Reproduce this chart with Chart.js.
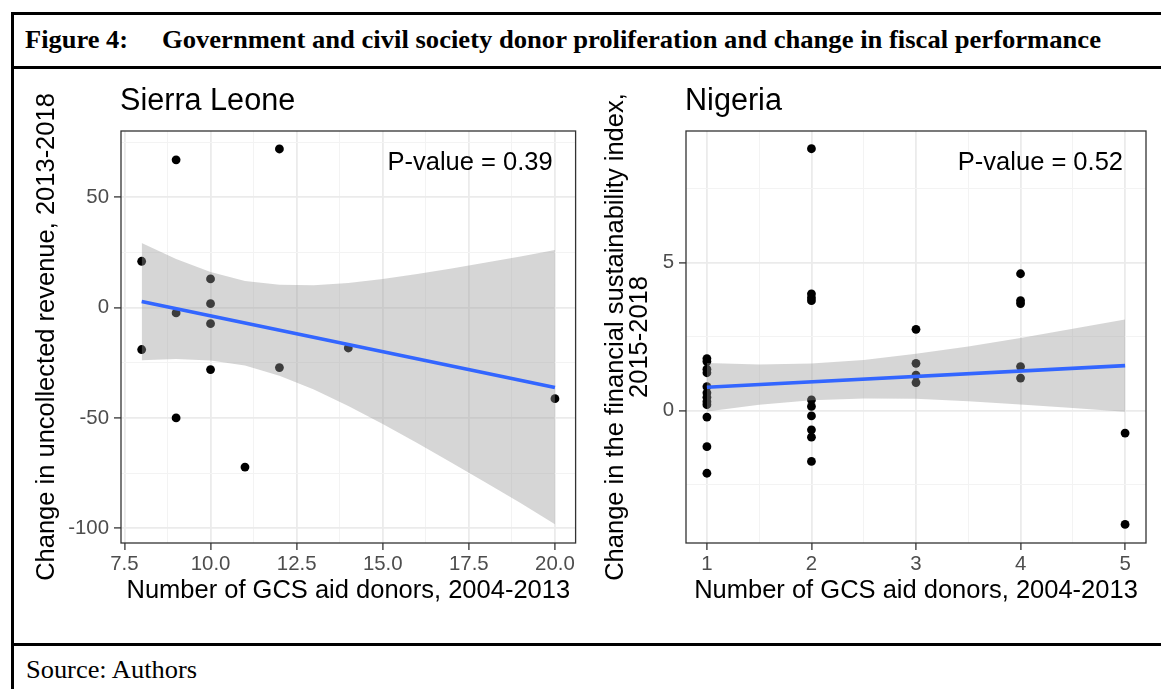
<!DOCTYPE html>
<html>
<head>
<meta charset="utf-8">
<script src="https://cdn.jsdelivr.net/npm/chart.js@4.4.1/dist/chart.umd.min.js"></script>
<style>
  body { margin: 0; background: #fff; }
  #page { position: relative; width: 1161px; height: 689px; overflow: hidden; background: #fff; }
  .rule { position: absolute; background: #000; }
  .serif { position: absolute; font-family: "Liberation Serif", "Times New Roman", serif; color: #000; white-space: pre; line-height: 1; transform-origin: 0 0; }
  canvas { position: absolute; }
</style>
</head>
<body>
<div id="page">
  <div class="rule" style="left:11px;top:12px;width:1150px;height:3px"></div>
  <div class="rule" style="left:11px;top:66px;width:1150px;height:3px"></div>
  <div class="rule" style="left:11px;top:643px;width:1150px;height:3px"></div>
  <div class="rule" style="left:11px;top:12px;width:3px;height:677px"></div>
  <div id="figLabel" class="serif" style="left:25px;top:27px;font-size:26px;font-weight:bold">Figure 4:</div>
  <div id="figTitle" class="serif" style="left:162px;top:27px;font-size:26px;font-weight:bold">Government and civil society donor proliferation and change in fiscal performance</div>
  <div id="source" class="serif" style="left:26px;top:657px;font-size:25px">Source: Authors</div>
  <canvas id="sierraLeone" width="580" height="573" style="left:0;top:70px"></canvas>
  <canvas id="nigeria" width="581" height="573" style="left:580px;top:70px"></canvas>
</div>
<script>
// ---- Sierra Leone ----
var slDonors = [8, 8, 9, 9, 9, 10, 10, 10, 10, 11, 12, 12, 14, 20];
var slRevenue = [21, -19, 67, -2.4, -50, 13, 1.8, -7.3, -28.1, -72.3, 71.9, -27.2, -18.3, -41.3];
var slFitX = [8, 20];
var slFitY = [2.8, -36.2];
var slBandX = [8, 9, 10, 11, 12, 13, 14, 15, 16, 17, 18, 19, 20];
var slBandHigh = [29.3, 22.0, 16.1, 12.1, 10.4, 10.1, 11.2, 13.0, 15.2, 17.7, 20.4, 23.2, 26.1];
var slBandLow = [-23.9, -23.3, -24.0, -26.3, -30.9, -37.1, -44.6, -52.8, -61.4, -70.3, -79.4, -88.6, -98.2];
var slXMajor = [7.5, 10, 12.5, 15, 17.5, 20];
var slXLabels = ["7.5", "10.0", "12.5", "15.0", "17.5", "20.0"];
var slXMinor = [8.75, 11.25, 13.75, 16.25, 18.75];
var slYMajor = [-100, -50, 0, 50];
var slYLabels = ["-100", "-50", "0", "50"];
var slYMinor = [-75, -25, 25, 75];

// ---- Nigeria ----
var ngDonors = [1, 1, 1, 1, 1, 1, 1, 1, 1, 1, 1, 1,
                2, 2, 2, 2, 2, 2, 2, 2, 2, 2,
                3, 3, 3, 3,
                4, 4, 4, 4, 4,
                5, 5];
var ngIndex = [1.76, 1.66, 1.40, 1.28, 0.81, 0.60, 0.45, 0.30, 0.20, -0.22, -1.22, -2.12,
               8.86, 3.95, 3.82, 3.72, 0.36, 0.14, -0.18, -0.65, -0.90, -1.72,
               2.75, 1.60, 1.20, 0.95,
               4.63, 3.72, 3.62, 1.49, 1.10,
               -0.76, -3.85];
var ngFitX = [1, 5];
var ngFitY = [0.79, 1.52];
var ngBandX = [1, 1.5, 2, 2.5, 3, 3.5, 4, 4.5, 5];
var ngBandHigh = [1.61, 1.56, 1.59, 1.71, 1.92, 2.17, 2.46, 2.77, 3.08];
var ngBandLow = [-0.03, 0.20, 0.35, 0.41, 0.40, 0.32, 0.21, 0.09, -0.04];
var ngXMajor = [1, 2, 3, 4, 5];
var ngXLabels = ["1", "2", "3", "4", "5"];
var ngXMinor = [1.5, 2.5, 3.5, 4.5];
var ngYMajor = [0, 5];
var ngYLabels = ["0", "5"];
var ngYMinor = [-2.5, 2.5, 7.5];

var SANS = '"Liberation Sans", Arial, sans-serif';
Chart.defaults.font.family = SANS;

// squeeze the serif caption texts to the widths they have in the figure
function fitWidth(id, w) {
    var el = document.getElementById(id);
    var cur = el.getBoundingClientRect().width;
    el.style.transform = "scaleX(" + (w / cur) + ")";
}
fitWidth("figLabel", 103);
fitWidth("figTitle", 939);
fitWidth("source", 171);

function toPoints(xs, ys) {
    return xs.map(function (x, i) { return { x: x, y: ys[i] }; });
}

// panel border, panel title and p-value label
var panelDecor = {
    id: "panelDecor",
    afterDatasetsDraw: function (chart, args, o) {
        var ctx = chart.ctx, a = chart.chartArea;
        ctx.save();
        ctx.strokeStyle = "#333333";
        ctx.lineWidth = 1.3;
        ctx.strokeRect(a.left, a.top, a.right - a.left, a.bottom - a.top);
        ctx.fillStyle = "#000";
        ctx.textBaseline = "alphabetic";
        ctx.font = "30.6px " + SANS;
        ctx.textAlign = "left";
        ctx.fillText(o.title, a.left - 1, 40);
        ctx.font = "25.5px " + SANS;
        ctx.textAlign = "right";
        ctx.fillText(o.pvalue, a.right - 23, a.top + 39);
        ctx.restore();
    }
};

function axis(min, max, majors, labels, minors, title, isX, size, titlePad) {
    var all = majors.concat(minors).sort(function (a, b) { return a - b; });
    var major = function (v) { return majors.indexOf(v) >= 0; };
    return {
        type: "linear",
        min: min,
        max: max,
        afterBuildTicks: function (s) {
            s.ticks = all.map(function (v) { return { value: v }; });
        },
        afterFit: function (s) {
            if (isX) { s.height = size; } else { s.width = size; }
            s.paddingLeft = 0; s.paddingRight = 0; s.paddingTop = 0; s.paddingBottom = 0;
        },
        border: { display: false },
        grid: {
            color: function (c) { return major(c.tick.value) ? "#EBEBEB" : "#F3F3F3"; },
            lineWidth: function (c) { return major(c.tick.value) ? 1.8 : 1; },
            tickColor: function (c) { return major(c.tick.value) ? "#333333" : "rgba(0,0,0,0)"; },
            tickLength: 7,
            tickWidth: 1.3
        },
        ticks: {
            autoSkip: false,
            maxRotation: 0,
            padding: isX ? 2.5 : 5,
            color: "#4D4D4D",
            font: { size: 20.4 },
            callback: function (v) {
                var i = majors.indexOf(v);
                return i >= 0 ? labels[i] : "";
            }
        },
        title: {
            display: true,
            text: title,
            color: "#000",
            font: { size: 25.5, lineHeight: Array.isArray(title) ? 0.95 : 1.2 },
            padding: titlePad
        }
    };
}

function makePanel(id, d) {
    return new Chart(document.getElementById(id), {
        type: "scatter",
        data: {
            datasets: [
                {
                    data: toPoints(d.fitX, d.fitY),
                    showLine: true,
                    borderColor: "#3366FF",
                    borderWidth: 3.6,
                    pointRadius: 0
                },
                {
                    data: toPoints(d.bandX, d.bandHigh),
                    showLine: true,
                    borderColor: "rgba(0,0,0,0)",
                    backgroundColor: "rgba(153,153,153,0.4)",
                    pointRadius: 0,
                    fill: "+1"
                },
                {
                    data: toPoints(d.bandX, d.bandLow),
                    showLine: true,
                    borderColor: "rgba(0,0,0,0)",
                    pointRadius: 0,
                    fill: false
                },
                {
                    data: toPoints(d.x, d.y),
                    backgroundColor: "#000000",
                    borderWidth: 0,
                    pointRadius: 4.4
                }
            ]
        },
        options: {
            responsive: false,
            animation: false,
            layout: { padding: { left: 0, top: 61, right: d.padRight, bottom: 0 } },
            scales: {
                x: axis(d.xMin, d.xMax, d.xMajor, d.xLabels, d.xMinor,
                        "Number of GCS aid donors, 2004-2013", true, 100, { top: 0, bottom: 36.5 }),
                y: axis(d.yMin, d.yMax, d.yMajor, d.yLabels, d.yMinor,
                        d.yTitle, false, d.yWidth, { top: d.yTitlePad, bottom: 0 })
            },
            plugins: {
                legend: { display: false },
                tooltip: { enabled: false },
                panelDecor: { title: d.title, pvalue: d.pvalue }
            }
        },
        plugins: [panelDecor]
    });
}

makePanel("sierraLeone", {
    x: slDonors, y: slRevenue,
    fitX: slFitX, fitY: slFitY,
    bandX: slBandX, bandHigh: slBandHigh, bandLow: slBandLow,
    xMin: 7.4, xMax: 20.6, xMajor: slXMajor, xLabels: slXLabels, xMinor: slXMinor,
    yMin: -106.7, yMax: 80.05, yMajor: slYMajor, yLabels: slYLabels, yMinor: slYMinor,
    yTitle: "Change in uncollected revenue, 2013-2018",
    yWidth: 121, yTitlePad: 31.7, padRight: 3,
    title: "Sierra Leone", pvalue: "P-value = 0.39"
});

makePanel("nigeria", {
    x: ngDonors, y: ngIndex,
    fitX: ngFitX, fitY: ngFitY,
    bandX: ngBandX, bandHigh: ngBandHigh, bandLow: ngBandLow,
    xMin: 0.8, xMax: 5.2, xMajor: ngXMajor, xLabels: ngXLabels, xMinor: ngXMinor,
    yMin: -4.48, yMax: 9.46, yMajor: ngYMajor, yLabels: ngYLabels, yMinor: ngYMinor,
    yTitle: ["Change in the financial sustainability index,", "2015-2018"],
    yWidth: 106, yTitlePad: 24.1, padRight: 15,
    title: "Nigeria", pvalue: "P-value = 0.52"
});
</script>
</body>
</html>
